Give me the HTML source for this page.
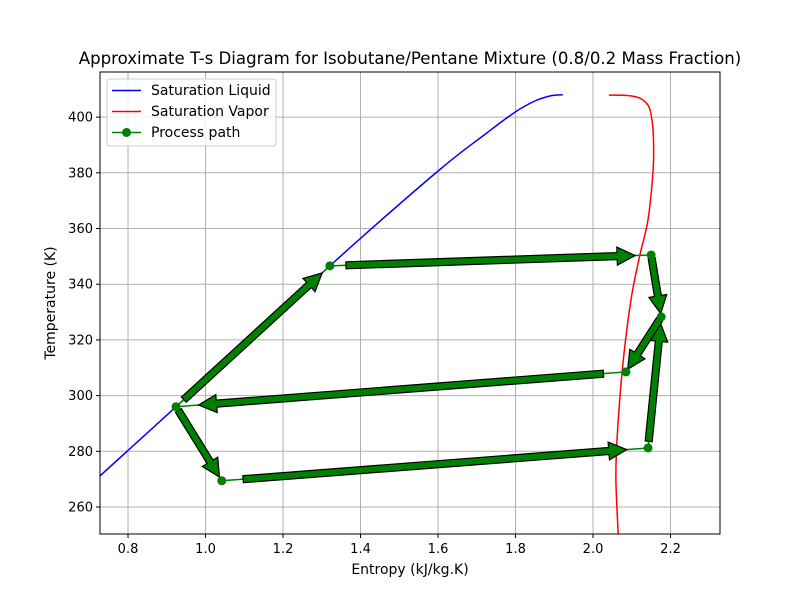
<!DOCTYPE html>
<html><head><meta charset="utf-8"><style>
body{margin:0;background:#fff;}
svg{display:block;font-family:"DejaVu Sans","Liberation Sans",sans-serif;}
</style></head><body>
<svg id="chart" width="800" height="600" viewBox="0 0 800 600"></svg>
<script>
const liqS=[0.728,0.924,1.321,1.597,1.726,1.799,1.850,1.890,1.922];
const liqT=[271.2,296,346.6,380.3,394.3,401.8,405.8,407.6,408];
const vapS=[2.041,2.095,2.125,2.145,2.153,2.156,2.155,2.142,2.121,2.098,2.075,2.062,2.059,2.065];
const vapT=[407.9,407.7,406.5,403.5,398.0,391.8,381.0,363.1,350.5,334.4,308.5,284.1,269.8,250.4];
const ptS=[1.321,2.150,2.176,2.085,0.924,1.042,2.142];
const ptT=[346.6,350.5,328.3,308.5,296.0,269.4,281.2];
const arrowFrom=[0,1,3,4,4,5,6,2];
const arrowTo=[1,2,4,0,5,6,2,3];
const xTicks=[0.8,1.0,1.2,1.4,1.6,1.8,2.0,2.2];
const yTicks=[260,280,300,320,340,360,380,400];
const L=100,R=720,T=72,B=534,x0=0.7277,x1=2.3277,y0=250.3,y1=416.2;
const X=s=>L+(s-x0)/(x1-x0)*(R-L);
const Y=t=>B-(t-y0)/(y1-y0)*(B-T);
const svg=document.getElementById('chart');
const NS='http://www.w3.org/2000/svg';
function mk(tag,attrs,parent){const e=document.createElementNS(NS,tag);for(const k in attrs)e.setAttribute(k,attrs[k]);(parent||svg).appendChild(e);return e;}
const defs=mk('clipPath',{id:'clip'});mk('rect',{x:L,y:T,width:R-L,height:B-T},defs);
const grid=mk('g',{});


xTicks.forEach(v=>{
 const l=mk('line',{x1:X(v),x2:X(v),y1:T,y2:B,stroke:'#b0b0b0','stroke-width':1},grid);
 
 
 const tk=mk('line',{x1:X(v),x2:X(v),y1:B,y2:B+4,stroke:'#000'});
 
 
 const t=mk('text',{x:X(v),y:B+19,'font-size':13,'text-anchor':'middle'});t.textContent=v.toFixed(1);
 
 
});
yTicks.forEach(v=>{
 const l=mk('line',{x1:L,x2:R,y1:Y(v),y2:Y(v),stroke:'#b0b0b0','stroke-width':1},grid);
 
 
 const tk=mk('line',{x1:L-4,x2:L,y1:Y(v),y2:Y(v),stroke:'#000'});
 
 
 const t=mk('text',{x:L-7,y:Y(v)+4.5,'font-size':13,'text-anchor':'end'});t.textContent=v;
 
 
});
const plot=mk('g',{'clip-path':'url(#clip)'});
function smooth(sa,ta){
 const p=sa.map((s,i)=>[X(s),Y(ta[i])]);
 let d='M'+p[0][0].toFixed(1)+','+p[0][1].toFixed(1);
 for(let i=0;i<p.length-1;i++){
  const p0=p[Math.max(i-1,0)],p1=p[i],p2=p[i+1],p3=p[Math.min(i+2,p.length-1)];
  const c1=[p1[0]+(p2[0]-p0[0])/6,p1[1]+(p2[1]-p0[1])/6];
  const c2=[p2[0]-(p3[0]-p1[0])/6,p2[1]-(p3[1]-p1[1])/6];
  d+=' C'+c1.map(v=>v.toFixed(1)).join(',')+' '+c2.map(v=>v.toFixed(1)).join(',')+' '+p2.map(v=>v.toFixed(1)).join(',');
 }
 return d;
}
const liq=mk('path',{d:smooth(liqS,liqT),fill:'none',stroke:'#0000ff','stroke-width':1.5},plot);


const vap=mk('path',{d:smooth(vapS,vapT),fill:'none',stroke:'#ff0000','stroke-width':1.5},plot);


arrowFrom.forEach((a,i)=>{
 const b=arrowTo[i];
 const ln=mk('line',{x1:X(ptS[a]),y1:Y(ptT[a]),x2:X(ptS[b]),y2:Y(ptT[b]),stroke:'#008000','stroke-width':1.5},plot);
 
 
});
arrowFrom.forEach((a,i)=>{
 const b=arrowTo[i];
 const ax=X(ptS[a]),ay=Y(ptT[a]),bx=X(ptS[b]),by=Y(ptT[b]);
 const sx=ax+0.05*(bx-ax),sy=ay+0.05*(by-ay),ex=ax+0.95*(bx-ax),ey=ay+0.95*(by-ay);
 const dx=ex-sx,dy=ey-sy,len=Math.hypot(dx,dy),ux=dx/len,uy=dy/len,nx=-uy,ny=ux;
 const hw=3.5,hh=9,hl=18;
 const hx=ex-ux*hl,hy=ey-uy*hl;
 const p=[[sx+nx*hw,sy+ny*hw],[hx+nx*hw,hy+ny*hw],[hx+nx*hh,hy+ny*hh],[ex,ey],[hx-nx*hh,hy-ny*hh],[hx-nx*hw,hy-ny*hw],[sx-nx*hw,sy-ny*hw]];
 const ar=mk('polygon',{points:p.map(q=>q[0].toFixed(1)+','+q[1].toFixed(1)).join(' '),fill:'#008000',stroke:'#000','stroke-width':1.2},plot);
 
 
});
ptS.forEach((s,i)=>{
 const c=mk('circle',{cx:X(s),cy:Y(ptT[i]),r:4.5,fill:'#008000'},plot);
 
 
});
const frame=mk('rect',{x:L,y:T,width:R-L,height:B-T,fill:'none',stroke:'#000','stroke-width':1});


</script>
<svg style="position:absolute;left:0;top:0" width="800" height="600">
<text x="410" y="64" font-size="16.6" text-anchor="middle" font-family="DejaVu Sans, Liberation Sans, sans-serif">Approximate T-s Diagram for Isobutane/Pentane Mixture (0.8/0.2 Mass Fraction)</text>
<text x="410" y="574" font-size="14" text-anchor="middle" font-family="DejaVu Sans, Liberation Sans, sans-serif">Entropy (kJ/kg.K)</text>
<text transform="translate(55,303) rotate(-90)" font-size="14" text-anchor="middle" font-family="DejaVu Sans, Liberation Sans, sans-serif">Temperature (K)</text>
<g font-family="DejaVu Sans, Liberation Sans, sans-serif" font-size="14">
<rect x="107" y="79" width="169" height="67" rx="3" fill="#fff" fill-opacity="0.8" stroke="#ccc"/>
<line x1="112" x2="141" y1="90.5" y2="90.5" stroke="#0000ff" stroke-width="1.5"/>
<text x="151" y="95">Saturation Liquid</text>
<line x1="112" x2="141" y1="111.5" y2="111.5" stroke="#ff0000" stroke-width="1.5"/>
<text x="151" y="116">Saturation Vapor</text>
<line x1="112" x2="141" y1="132.5" y2="132.5" stroke="#008000" stroke-width="1.5"/>
<circle cx="126.5" cy="132.5" r="4.5" fill="#008000"/>
<text x="151" y="137">Process path</text>
</g>
</svg>
</body></html>
